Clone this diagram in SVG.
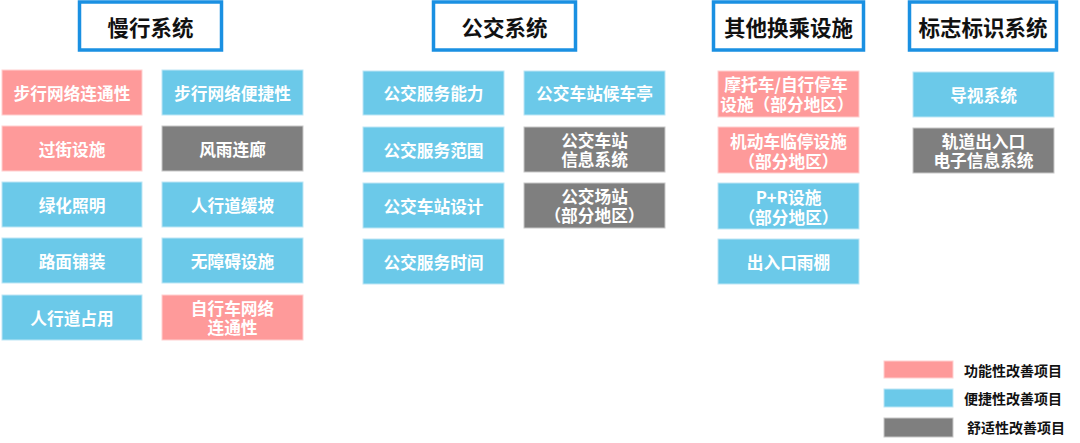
<svg xmlns="http://www.w3.org/2000/svg" width="1080" height="443" viewBox="0 0 1080 443">
<style>
.hdr{fill:#fff;stroke:#1a90e2;stroke-width:3.5}
.ht{font-family:"Noto Sans CJK SC","Noto Sans",sans-serif;font-weight:bold;font-size:21.5px;fill:#111;text-anchor:middle;dominant-baseline:central}
.p{fill:#fe9a9a;stroke:#ffd0d0;stroke-width:1}
.b{fill:#6bc9e9;stroke:#bde6f5;stroke-width:1}
.g{fill:#7f7f7f;stroke:#c8c8c8;stroke-width:1}
.t{font-family:"Noto Sans CJK SC","Noto Sans",sans-serif;font-weight:bold;font-size:16.7px;fill:#fff;text-anchor:middle;dominant-baseline:central}
.lt{font-family:"Noto Sans CJK SC","Noto Sans",sans-serif;font-weight:bold;font-size:14px;fill:#111;dominant-baseline:central}
</style>
<g id="h1"><rect class="hdr" x="79.5" y="2" width="142" height="48"/><text class="ht" x="150.5" y="26">慢行系统</text></g>
<g id="h2"><rect class="hdr" x="433.5" y="2" width="142" height="48"/><text class="ht" x="504.5" y="26">公交系统</text></g>
<g id="h3"><rect class="hdr" x="713.5" y="2" width="150" height="48"/><text class="ht" x="788.5" y="26">其他换乘设施</text></g>
<g id="h4"><rect class="hdr" x="909.5" y="2" width="147" height="48"/><text class="ht" x="983" y="26">标志标识系统</text></g>

<g id="s1"><rect class="p" x="2" y="70" width="140" height="45"/><text class="t" x="72" y="92.5">步行网络连通性</text></g>
<g id="s2"><rect class="p" x="2" y="126" width="140" height="45"/><text class="t" x="72" y="148.5">过街设施</text></g>
<g id="s3"><rect class="b" x="2" y="182" width="140" height="45"/><text class="t" x="72" y="204.5">绿化照明</text></g>
<g id="s4"><rect class="b" x="2" y="238" width="140" height="45"/><text class="t" x="72" y="260.5">路面铺装</text></g>
<g id="s5"><rect class="b" x="2" y="295" width="140" height="45"/><text class="t" x="72" y="317.5">人行道占用</text></g>
<g id="s6"><rect class="b" x="162" y="70" width="141" height="45"/><text class="t" x="232.5" y="92.5">步行网络便捷性</text></g>
<g id="s7"><rect class="g" x="162" y="126" width="141" height="45"/><text class="t" x="232.5" y="148.5">风雨连廊</text></g>
<g id="s8"><rect class="b" x="162" y="182" width="141" height="45"/><text class="t" x="232.5" y="204.5">人行道缓坡</text></g>
<g id="s9"><rect class="b" x="162" y="238" width="141" height="45"/><text class="t" x="232.5" y="260.5">无障碍设施</text></g>
<g id="s10"><rect class="p" x="162" y="295" width="141" height="45"/><text class="t"><tspan x="232.5" y="308">自行车网络</tspan><tspan x="232.5" y="327">连通性</tspan></text></g>

<g id="b1"><rect class="b" x="363" y="71" width="141" height="44"/><text class="t" x="433.5" y="93">公交服务能力</text></g>
<g id="b2"><rect class="b" x="363" y="127" width="141" height="45"/><text class="t" x="433.5" y="149.5">公交服务范围</text></g>
<g id="b3"><rect class="b" x="363" y="183" width="141" height="45"/><text class="t" x="433.5" y="205.5">公交车站设计</text></g>
<g id="b4"><rect class="b" x="363" y="239" width="141" height="45"/><text class="t" x="433.5" y="261.5">公交服务时间</text></g>
<g id="b5"><rect class="b" x="524" y="71" width="141" height="44"/><text class="t" x="594.5" y="93">公交车站候车亭</text></g>
<g id="b6"><rect class="g" x="524" y="127" width="141" height="45"/><text class="t"><tspan x="594.5" y="140">公交车站</tspan><tspan x="594.5" y="159">信息系统</tspan></text></g>
<g id="b7"><rect class="g" x="524" y="183" width="141" height="45"/><text class="t"><tspan x="594.5" y="196">公交场站</tspan><tspan x="594.5" y="215">（部分地区）</tspan></text></g>

<g id="o1"><rect class="p" x="718" y="71" width="141" height="46"/><text class="t"><tspan x="786" y="84">摩托车/自行停车</tspan><tspan x="787" y="104">设施（部分地区）</tspan></text></g>
<g id="o2"><rect class="p" x="718" y="127" width="141" height="46"/><text class="t"><tspan x="788.5" y="141">机动车临停设施</tspan><tspan x="788.5" y="161">（部分地区）</tspan></text></g>
<g id="o3"><rect class="b" x="718" y="183" width="141" height="46"/><text class="t"><tspan x="788.5" y="197">P+R设施</tspan><tspan x="788.5" y="217">（部分地区）</tspan></text></g>
<g id="o4"><rect class="b" x="718" y="239" width="141" height="45"/><text class="t" x="788.5" y="262">出入口雨棚</text></g>

<g id="n1"><rect class="b" x="913" y="72" width="141" height="45"/><text class="t" x="983.5" y="94.5">导视系统</text></g>
<g id="n2"><rect class="g" x="913" y="128" width="141" height="45"/><text class="t"><tspan x="983.5" y="141">轨道出入口</tspan><tspan x="983.5" y="160">电子信息系统</tspan></text></g>

<g id="connectors"></g>

<g id="legend">
<rect class="p" x="884" y="361" width="69" height="17"/><text class="lt" x="964" y="369.5">功能性改善项目</text>
<rect class="b" x="884" y="389" width="69" height="18"/><text class="lt" x="964" y="397.5">便捷性改善项目</text>
<rect class="g" x="884" y="418" width="69" height="19"/><text class="lt" x="967" y="427">舒适性改善项目</text>
</g>
</svg>
